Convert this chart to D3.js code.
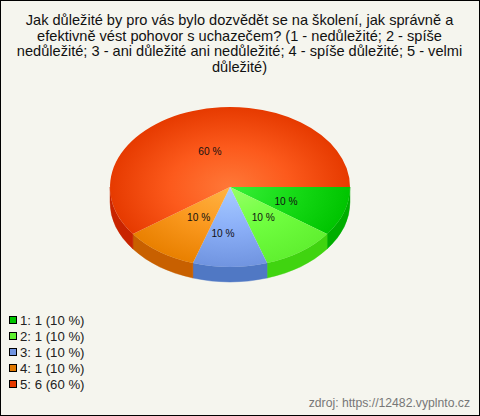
<!DOCTYPE html>
<html><head><meta charset="utf-8">
<script src="https://cdn.jsdelivr.net/npm/d3@7/dist/d3.min.js"></script>
<style>html,body{margin:0;padding:0;background:#fff}svg{display:block}text{font-family:"Liberation Sans",Arial,sans-serif}</style>
</head><body><svg id="c" width="480" height="416"></svg>
<script>
const categories = ["1","2","3","4","5"];
const counts = [1,1,1,1,6];
const percents = [10,10,10,10,60];
const titleLines = [
 "Jak důležité by pro vás bylo dozvědět se na školení, jak správně a",
 "efektivně vést pohovor s uchazečem? (1 - nedůležité; 2 - spíše",
 "nedůležité; 3 - ani důležité ani nedůležité; 4 - spíše důležité; 5 - velmi",
 "důležité)"];
const sourceText = "zdroj: https://12482.vyplnto.cz";
const centerColors = ["#38f038","#98ff68","#a8ccff","#ffb445","#ff7838"];
const midColors = ["#18dc18","#70ff40","#8cb0f8","#fb9a20","#fc5a1c"];
const edgeColors = ["#00c400","#60f030","#7094e0","#e98000","#e63a00"];
const sideColors = ["#00ae00","#40d410","#5078c4","#c86000","#c82400"];
const legendColors = ["#00c400","#60f030","#7094e0","#e07800","#e63a00"];

const W=480,H=416,cx=230,cy=187,rx=120,ry=80,depth=15;
const svg=d3.select("#c");
svg.append("rect").attr("x",0.5).attr("y",0.5).attr("width",W-1).attr("height",H-1)
  .attr("fill","#f5f5ee").attr("stroke","#000").attr("stroke-width",1);

svg.append("g").selectAll("text").data(titleLines).join("text")
  .attr("x",239.5).attr("y",(d,i)=>25+i*15.5).attr("text-anchor","middle")
  .attr("font-size",14.6).attr("fill","#111").text(d=>d);

const pie=d3.pie().value(d=>d).sort(null).startAngle(Math.PI/2).endAngle(Math.PI/2+2*Math.PI);
const arcs=pie(counts);

const defs=svg.append("defs");
arcs.forEach((a,i)=>{
  const g=defs.append("radialGradient").attr("id","g"+i).attr("gradientUnits","userSpaceOnUse")
    .attr("cx",0).attr("cy",0).attr("r",rx);
  g.append("stop").attr("offset","0").attr("stop-color",centerColors[i]);
  g.append("stop").attr("offset","0.5").attr("stop-color",midColors[i]);
  g.append("stop").attr("offset","1").attr("stop-color",edgeColors[i]);
});

// side wall: the part of each slice's rim on the front half of the ellipse
const pt=t=>[cx+rx*Math.sin(t),cy-ry*Math.cos(t)];
const front=[Math.PI/2,3*Math.PI/2];
const sides=svg.append("g");
arcs.forEach((a,i)=>{
  const s=Math.max(a.startAngle,front[0]),e=Math.min(a.endAngle,front[1]);
  if(e<=s) return;
  const [x0,y0]=pt(s),[x1,y1]=pt(e);
  sides.append("path").attr("fill",sideColors[i]).attr("stroke",sideColors[i]).attr("stroke-width",0.4)
    .attr("d",`M${x0},${y0}A${rx},${ry} 0 0 1 ${x1},${y1}L${x1},${y1+depth}A${rx},${ry} 0 0 0 ${x0},${y0+depth}Z`);
});

const arc=d3.arc().innerRadius(0).outerRadius(rx);
const topFace=svg.append("g").attr("transform",`translate(${cx},${cy}) scale(1,${ry/rx})`);
topFace.selectAll("path").data(arcs).join("path")
  .attr("d",arc).attr("fill",(d,i)=>`url(#g${i})`);

// label placement: half radius on the slice's mid-angle, plus a small nudge per slice
const nudgeX=[-1,-2,-7,4,-1.5], nudgeY=[5.5,2,10,2,6];
svg.append("g").selectAll("text").data(arcs).join("text")
  .attr("text-anchor","middle").attr("font-size",10.2).attr("fill","#111")
  .attr("x",(d,i)=>cx+rx*0.5*Math.sin((d.startAngle+d.endAngle)/2)+nudgeX[i])
  .attr("y",(d,i)=>cy-ry*0.5*Math.cos((d.startAngle+d.endAngle)/2)+nudgeY[i])
  .text((d,i)=>percents[i]+" %");

const leg=svg.append("g").selectAll("g").data(categories).join("g")
  .attr("transform",(d,i)=>`translate(9,${316+i*16})`);
leg.append("rect").attr("x",0.5).attr("y",0.5).attr("width",7).attr("height",7)
  .attr("fill",(d,i)=>legendColors[i]).attr("stroke","#000");
leg.append("text").attr("x",11).attr("y",9).attr("font-size",13.2).attr("fill","#222")
  .text((d,i)=>`${d}: ${counts[i]} (${percents[i]} %)`);

svg.append("text").attr("x",470).attr("y",407).attr("text-anchor","end")
  .attr("font-size",12.2).attr("fill","#777").text(sourceText);
</script></body></html>
